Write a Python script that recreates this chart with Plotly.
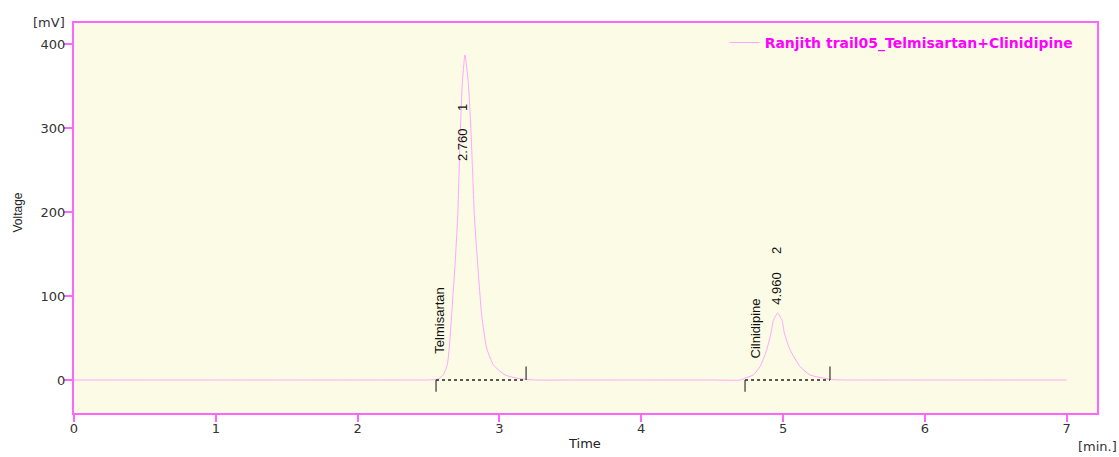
import plotly.graph_objects as go

# ---- data ----
time_min = [0.0, 0.5, 1.0, 1.5, 2.0, 2.4, 2.50, 2.567, 2.604, 2.632, 2.646, 2.663, 2.687,
            2.706, 2.713, 2.724, 2.738, 2.757, 2.781, 2.800, 2.814, 2.823, 2.847,
            2.875, 2.910, 2.957, 3.04, 3.13, 3.25, 3.5, 4.0, 4.5, 4.70, 4.743, 4.79,
            4.838, 4.885, 4.915, 4.932, 4.962, 4.993, 5.009, 5.049, 5.12, 5.19, 5.26,
            5.35, 5.45, 5.8, 6.2, 6.6, 7.0]
voltage_mv = [0, 0, 0, 0, 0, 0, 0, 1, 6, 18, 38, 77, 137,
              196, 234, 294, 353, 387, 353, 294, 234, 196, 137,
              77, 38, 18, 6, 2, 0, 0, 0, 0, 0, 3, 6,
              16, 36, 56, 71, 79.5, 71, 56, 36, 16, 6, 3,
              0.5, 0, 0, 0, 0, 0]

peak_rt = [2.760, 4.960]
peak_no = ["1", "2"]
peak_name = ["Telmisartan", "Cilnidipine"]
peak_start = [2.553, 4.732]
peak_end = [3.188, 5.331]

x_ticks = [0, 1, 2, 3, 4, 5, 6, 7]
y_ticks = [0, 100, 200, 300, 400]

series_name = "Ranjith trail05_Telmisartan+Clinidipine"

PINK = "#ff66ff"
TRACE = "#ffa6ff"
FONT = "Liberation Sans, Arial, sans-serif"
HFONT = "DejaVu Sans, Arial, sans-serif"

fig = go.Figure()

fig.add_trace(go.Scatter(
    x=time_min, y=voltage_mv, mode="lines", name=series_name,
    line=dict(color=TRACE, width=1, shape="spline", smoothing=0.5),
))

# integration baselines and markers
for s, e in zip(peak_start, peak_end):
    fig.add_trace(go.Scatter(x=[s, e], y=[0, 0], mode="lines", showlegend=False,
                             line=dict(color="#222222", width=1.3, dash="dot"), hoverinfo="skip"))
    fig.add_trace(go.Scatter(x=[s, s], y=[0, -14], mode="lines", showlegend=False,
                             line=dict(color="#333333", width=1.2), hoverinfo="skip"))
    fig.add_trace(go.Scatter(x=[e, e], y=[0, 16], mode="lines", showlegend=False,
                             line=dict(color="#333333", width=1.2), hoverinfo="skip"))

# peak labels (offsets relative to peaks)
rt_label_y = [280, 109]
no_label_y = [324, 154]
name_x_off = [-0.184, -0.157]
name_y = [71, 61.5]
rt_x_off = [-0.015, -0.007]
for rt, no, nm, ry, ny, nx, nmy, rx in zip(peak_rt, peak_no, peak_name, rt_label_y,
                                           no_label_y, name_x_off, name_y, rt_x_off):
    fig.add_annotation(x=rt + rx, y=ry, text=f"{rt:.3f}", textangle=-90, showarrow=False,
                       font=dict(family=FONT, size=13, color="#111111"))
    fig.add_annotation(x=rt + rx, y=ny, text=no, textangle=-90, showarrow=False,
                       font=dict(family=FONT, size=13, color="#111111"))
    fig.add_annotation(x=rt + nx, y=nmy, text=nm, textangle=-90, showarrow=False,
                       font=dict(family=FONT, size=13, color="#111111"))

# axis titles as positioned text
fig.add_annotation(xref="paper", yref="paper", x=0, y=1.0, xanchor="right", yanchor="bottom",
                   text="[mV]", showarrow=False, yshift=-9, xshift=-7,
                   font=dict(family=HFONT, size=13, color="#333333"))
fig.add_annotation(xref="paper", yref="paper", x=0, y=0.5, xanchor="center", yanchor="middle",
                   text="Voltage", textangle=-90, showarrow=False, xshift=-56.5, yshift=5,
                   font=dict(family=FONT, size=12, color="#222222"))
fig.add_annotation(xref="paper", yref="paper", x=0.5, y=0, xanchor="center", yanchor="middle",
                   text="Time", showarrow=False, yshift=-30, xshift=-1,
                   font=dict(family=HFONT, size=13, color="#222222"))
fig.add_annotation(xref="paper", yref="paper", x=1.0, y=0, xanchor="center", yanchor="middle",
                   text="[min.]", showarrow=False, yshift=-33, xshift=0,
                   font=dict(family=HFONT, size=13, color="#333333"))

fig.update_layout(
    width=1119, height=457,
    margin=dict(l=74, r=22, t=23, b=44),
    paper_bgcolor="white",
    plot_bgcolor="#fcfce6",
    showlegend=True,
    legend=dict(x=0.636, y=0.99, xanchor="left", yanchor="top", bgcolor="rgba(0,0,0,0)",
                font=dict(family=HFONT, size=14, color="#ff00ff", weight="bold")),
    font=dict(family=HFONT, size=13, color="#333333"),
)
fig.update_xaxes(range=[0, 7.214], tickvals=x_ticks, ticktext=[str(v) for v in x_ticks],
                 showgrid=False, zeroline=False, showline=True, linecolor=PINK, linewidth=2,
                 mirror=True, ticks="outside", ticklen=2, tickcolor=PINK, tickwidth=1.5,
                 minor=dict(tickvals=x_ticks, ticks="outside", ticklen=7, tickcolor=PINK,
                            tickwidth=1.5, showgrid=False))
fig.update_yaxes(range=[-39.3, 425], tickvals=y_ticks, ticktext=[str(v) for v in y_ticks],
                 showgrid=False, zeroline=False, showline=True, linecolor=PINK, linewidth=2,
                 mirror=True, ticks="outside", ticklen=4, tickcolor=PINK, tickwidth=1.5,
                 minor=dict(tickvals=y_ticks, ticks="outside", ticklen=8, tickcolor=PINK,
                            tickwidth=1.5, showgrid=False))

fig.write_html("out.html", config={"displayModeBar": False},
               post_script="document.body.style.margin='0';document.body.style.overflow='hidden';")
